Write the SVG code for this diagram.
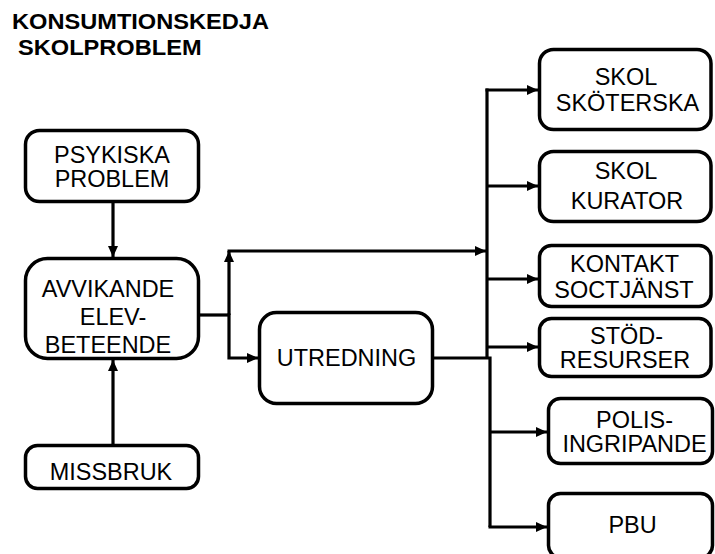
<svg xmlns="http://www.w3.org/2000/svg" width="715" height="554" viewBox="0 0 715 554">
<style>
.box{fill:#fff;stroke:#000;stroke-width:3.5}
.t{font-family:"Liberation Sans",Arial,sans-serif;font-size:23px;text-anchor:middle;fill:#000}
.title{font-family:"Liberation Sans",Arial,sans-serif;font-size:22.5px;font-weight:bold;fill:#000}
.c{fill:none;stroke:#000;stroke-width:3.2}
</style>
<defs>
<marker id="ah" markerUnits="userSpaceOnUse" markerWidth="11" markerHeight="10" refX="11" refY="5" orient="auto">
<path d="M0,0 L11,5 L0,10 z" fill="#000"/>
</marker>
</defs>
<rect width="715" height="554" fill="#fff"/>
<g id="title">
<text class="title" transform="translate(12,29) scale(1.05,1)">KONSUMTIONSKEDJA</text>
<text class="title" transform="translate(18,55) scale(1.05,1)">SKOLPROBLEM</text>
</g>
<g id="connectors">
<path class="c" d="M113,203 V257" marker-end="url(#ah)"/>
<path class="c" d="M113,444 V360" marker-end="url(#ah)"/>
<path class="c" d="M198,315 H229"/>
<path class="c" d="M229,315 V251" marker-end="url(#ah)"/>
<path class="c" d="M227.5,251 H486" marker-end="url(#ah)"/>
<path class="c" d="M229,313.5 V358 H258" marker-end="url(#ah)"/>
<path class="c" d="M487,88.5 V358"/>
<path class="c" d="M485.5,90 H538" marker-end="url(#ah)"/>
<path class="c" d="M487,186 H538" marker-end="url(#ah)"/>
<path class="c" d="M487,279 H538" marker-end="url(#ah)"/>
<path class="c" d="M487,347 H538" marker-end="url(#ah)"/>
<path class="c" d="M433,358 H490 V527" />
<path class="c" d="M490,432 H547" marker-end="url(#ah)"/>
<path class="c" d="M488.5,527 H547" marker-end="url(#ah)"/>
</g>
<g id="psykiska">
<rect class="box" x="25.5" y="130.5" width="173" height="71" rx="14"/>
<text class="t" transform="translate(112,163) scale(1.02,1)">PSYKISKA</text>
<text class="t" transform="translate(112,187) scale(1.02,1)">PROBLEM</text>
</g>
<g id="avvikande">
<rect class="box" x="25.5" y="258.5" width="173" height="100" rx="22"/>
<text class="t" transform="translate(108,297) scale(1.02,1)">AVVIKANDE</text>
<text class="t" transform="translate(113,325) scale(1.02,1)">ELEV-</text>
<text class="t" transform="translate(108,353) scale(1.02,1)">BETEENDE</text>
</g>
<g id="missbruk">
<rect class="box" x="25.5" y="445.5" width="173" height="43" rx="12"/>
<text class="t" transform="translate(111,480) scale(1.02,1)">MISSBRUK</text>
</g>
<g id="utredning">
<rect class="box" x="259.5" y="312.5" width="173" height="91" rx="17"/>
<text class="t" transform="translate(346.5,366) scale(1.02,1)">UTREDNING</text>
</g>
<g id="skolskoterska">
<rect class="box" x="539.5" y="49.5" width="171.5" height="80" rx="14"/>
<text class="t" transform="translate(626,85) scale(1.02,1)">SKOL</text>
<text class="t" transform="translate(627.5,111) scale(1.02,1)">SKÖTERSKA</text>
</g>
<g id="skolkurator">
<rect class="box" x="539.5" y="151.5" width="171.5" height="70" rx="14"/>
<text class="t" transform="translate(626,179) scale(1.02,1)">SKOL</text>
<text class="t" transform="translate(627,209) scale(1.02,1)">KURATOR</text>
</g>
<g id="kontakt">
<rect class="box" x="539.5" y="245.5" width="171.5" height="61" rx="12"/>
<text class="t" transform="translate(624.5,272) scale(1.02,1)">KONTAKT</text>
<text class="t" transform="translate(624,298) scale(1.02,1)">SOCTJÄNST</text>
</g>
<g id="stod">
<rect class="box" x="539.5" y="318.5" width="171.5" height="58" rx="12"/>
<text class="t" transform="translate(626.5,344) scale(1.02,1)">STÖD-</text>
<text class="t" transform="translate(625,368) scale(1.02,1)">RESURSER</text>
</g>
<g id="polis">
<rect class="box" x="548.5" y="398.5" width="164" height="65" rx="12"/>
<text class="t" transform="translate(634.5,428) scale(1.02,1)">POLIS-</text>
<text class="t" transform="translate(634.5,452) scale(1.02,1)">INGRIPANDE</text>
</g>
<g id="pbu">
<rect class="box" x="548.5" y="493.5" width="164" height="64" rx="12"/>
<text class="t" transform="translate(632.5,533) scale(1.02,1)">PBU</text>
</g>
</svg>
